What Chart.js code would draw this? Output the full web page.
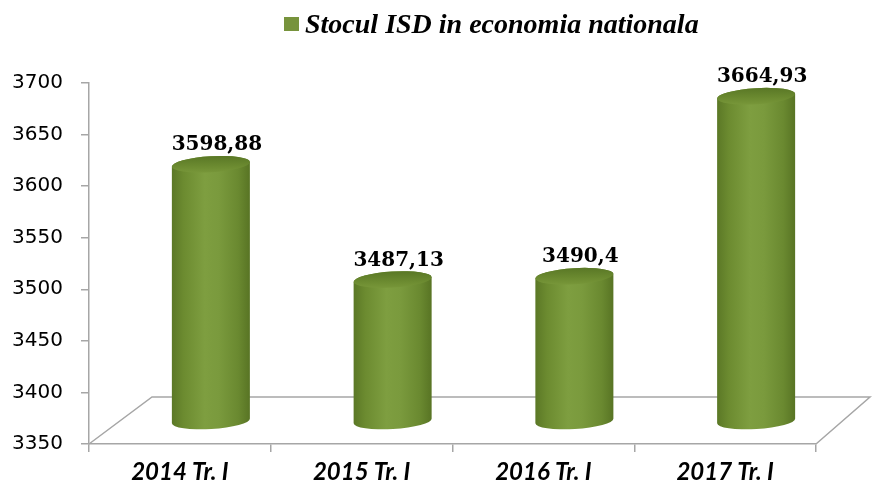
<!DOCTYPE html>
<html>
<head>
<meta charset="utf-8">
<script src="https://cdn.jsdelivr.net/npm/chart.js@4/dist/chart.umd.min.js"></script>
<style>
html,body{margin:0;padding:0;background:#fff;}
canvas{display:block;}
</style>
</head>
<body>
<canvas id="c" width="874" height="488"></canvas>
<script>
const categories = ['2014 Tr. I', '2015 Tr. I', '2016 Tr. I', '2017 Tr. I'];
const values = [3598.88, 3487.13, 3490.4, 3664.93];
const seriesName = 'Stocul ISD in economia nationala';
const yMin = 3350, yMax = 3700, yStep = 50;

const GREEN = '#77933c';
const AXIS = '#a6a6a6';
const DEPTH = { dxL: 63, dxR: 54, dy: -47 };
const BAR_SHIFT = { dx: 31, dy: -23 };

const cylinderPlugin = {
  id: 'cylinder3d',
  beforeDatasetsDraw(chart) {
    const ctx = chart.ctx, a = chart.chartArea;
    ctx.save();
    ctx.strokeStyle = AXIS;
    ctx.lineWidth = 1.5;
    ctx.beginPath();
    ctx.moveTo(a.left, a.bottom);
    ctx.lineTo(a.left + DEPTH.dxL, a.bottom + DEPTH.dy);
    ctx.lineTo(a.right + DEPTH.dxR, a.bottom + DEPTH.dy);
    ctx.lineTo(a.right, a.bottom);
    ctx.stroke();
    ctx.restore();
  },
  afterDatasetsDraw(chart) {
    const ctx = chart.ctx;
    const meta = chart.getDatasetMeta(0);
    const data = chart.data.datasets[0].data;
    const baseY = chart.scales.y.getPixelForValue(chart.scales.y.min);
    meta.data.forEach((bar, i) => {
      const p = bar.getProps(['x', 'y', 'width'], true);
      const cx = p.x + BAR_SHIFT.dx;
      const rx = p.width / 2;
      const ry = 8;
      const tilt = -0.06;
      const yt = p.y + BAR_SHIFT.dy;
      const yb = baseY + BAR_SHIFT.dy;
      ctx.save();
      const g = ctx.createLinearGradient(cx - rx, 0, cx + rx, 0);
      g.addColorStop(0, '#5b7826');
      g.addColorStop(0.15, '#6c8b30');
      g.addColorStop(0.42, '#7e9e40');
      g.addColorStop(0.6, '#7a9a3d');
      g.addColorStop(0.85, '#6a8930');
      g.addColorStop(1, '#587424');
      ctx.beginPath();
      ctx.ellipse(cx, yb, rx, ry, tilt, 0, Math.PI, false);
      ctx.ellipse(cx, yt, rx, ry, tilt, Math.PI, 2 * Math.PI, false);
      ctx.closePath();
      ctx.fillStyle = g;
      ctx.fill();
      const gt = ctx.createLinearGradient(0, yt - ry, 0, yt + ry);
      gt.addColorStop(0, '#5a7826');
      gt.addColorStop(0.6, '#6b8a30');
      gt.addColorStop(1, '#779639');
      ctx.beginPath();
      ctx.ellipse(cx, yt, rx, ry, tilt, 0, 2 * Math.PI);
      ctx.fillStyle = gt;
      ctx.fill();
      ctx.fillStyle = '#000';
      ctx.font = 'bold 20px "DejaVu Serif"';
      ctx.textAlign = 'center';
      ctx.textBaseline = 'alphabetic';
      ctx.fillText(String(data[i]).replace('.', ','), cx + 6, yt - ry - 6);
      ctx.restore();
    });
  },
  afterDraw(chart) {
    const ctx = chart.ctx;
    ctx.save();
    ctx.fillStyle = GREEN;
    ctx.fillRect(284, 17, 15, 14);
    ctx.fillStyle = '#000';
    ctx.font = 'italic bold 28px "Liberation Serif"';
    ctx.textAlign = 'left';
    ctx.textBaseline = 'alphabetic';
    ctx.fillText(chart.data.datasets[0].label, 305, 33);
    ctx.restore();
  }
};

new Chart(document.getElementById('c'), {
  type: 'bar',
  data: {
    labels: categories,
    datasets: [{
      label: seriesName,
      data: values,
      backgroundColor: 'rgba(0,0,0,0)',
      borderWidth: 0,
      categoryPercentage: 1,
      barPercentage: 0.43
    }]
  },
  options: {
    responsive: false,
    devicePixelRatio: 1,
    animation: false,
    layout: { padding: { top: 83, left: 12, right: 58, bottom: 2 } },
    plugins: { legend: { display: false }, tooltip: { enabled: false } },
    scales: {
      x: {
        afterFit: (s) => { s.height = 42; },
        grid: { display: true, drawOnChartArea: false, drawTicks: true, tickLength: 8, color: AXIS, lineWidth: 1.5 },
        border: { display: true, color: AXIS, width: 1.5 },
        ticks: { color: '#000', padding: 6, font: { family: 'Lato', size: 24, weight: 'bold', style: 'italic' } }
      },
      y: {
        min: yMin, max: yMax,
        afterFit: (s) => { s.width = 77; },
        grid: { display: true, drawOnChartArea: false, drawTicks: true, tickLength: 8, color: AXIS, lineWidth: 1.5 },
        border: { display: true, color: AXIS, width: 1.5 },
        ticks: { stepSize: yStep, color: '#000', padding: 18, font: { family: 'DejaVu Sans', size: 20 },
                 callback: (v) => String(v) }
      }
    }
  },
  plugins: [cylinderPlugin]
});
</script>
</body>
</html>
